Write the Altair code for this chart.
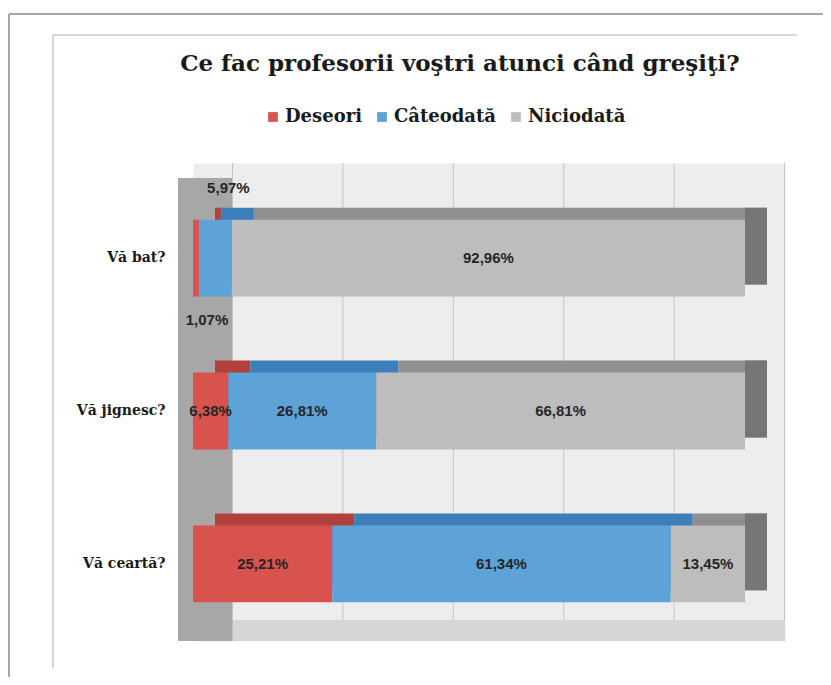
import altair as alt
import pandas as pd

# ---- data ----
questions = ["Vă bat?", "Vă jignesc?", "Vă ceartă?"]
series = ["Deseori", "Câteodată", "Niciodată"]
deseori = [1.07, 6.38, 25.21]
cateodata = [5.97, 26.81, 61.34]
niciodata = [92.96, 66.81, 13.45]
grid_ticks = [0, 20, 40, 60, 80, 100]

front_colors = ["#D8524E", "#5DA3D7", "#BDBDBD"]
top_colors = ["#B2403D", "#3C7FBB", "#8F8F8F"]

rows = []
for i, q in enumerate(questions):
    for j, vals in enumerate([deseori, cateodata, niciodata]):
        rows.append({"question": q, "series": series[j], "order": j, "value": vals[i]})
df = pd.DataFrame(rows)

W, H = 592, 478
xscale = alt.Scale(domain=[0, 100 * W / 552], nice=False, zero=True)
yscale = alt.Scale(domain=questions, paddingInner=0.497, paddingOuter=0.312, align=0.594)

yaxis = alt.Axis(title=None, domain=False, ticks=False, grid=False, labelPadding=28,
                 labelFont="DejaVu Serif", labelFontWeight="bold", labelFontSize=14,
                 labelColor="#1a1a1a")
y_enc = alt.Y("question:N", scale=yscale, axis=yaxis, sort=questions)

top_expr = "[" + ",".join("'%s'" % c for c in top_colors) + "][datum.order]"

base = alt.Chart(df).transform_stack(
    stack="value", groupby=["question"], as_=["x0", "x1"], sort=[alt.SortField("order")]
).transform_calculate(
    mid="(datum.x0 + datum.x1) / 2",
    label="replace(format(datum.value, '.2f'), '.', ',') + '%'",
    topc=top_expr,
)

one = pd.DataFrame({"a": [0]})

floor = alt.Chart(one).mark_rect(color="#D6D6D6").encode(
    x=alt.value(-15), x2=alt.value(W), y=alt.value(457), y2=alt.value(H))
wall = alt.Chart(one).mark_rect(color="#A7A7A7").encode(
    x=alt.value(-15), x2=alt.value(39.5), y=alt.value(15), y2=alt.value(H))
grid = alt.Chart(pd.DataFrame({"tick": grid_ticks})).mark_rule(
    color="#C6C6C6", strokeWidth=1, xOffset=39.5
).encode(x=alt.X("tick:Q", scale=xscale, axis=None), y=alt.value(0), y2=alt.value(457))

frame_outer_top = alt.Chart(one).mark_rule(color="#8A8A8A", strokeWidth=1.5).encode(
    x=alt.value(-184), x2=alt.value(640), y=alt.value(-149))
frame_outer_left = alt.Chart(one).mark_rule(color="#8A8A8A", strokeWidth=1.5).encode(
    x=alt.value(-184), y=alt.value(-149), y2=alt.value(530))
frame_inner_top = alt.Chart(one).mark_rule(color="#D6D6D6", strokeWidth=2).encode(
    x=alt.value(-140), x2=alt.value(604), y=alt.value(-128))
frame_inner_left = alt.Chart(one).mark_rule(color="#D6D6D6", strokeWidth=2).encode(
    x=alt.value(-140), y=alt.value(-128), y2=alt.value(505))

x_enc = alt.X("x0:Q", scale=xscale, axis=None)

tops = base.mark_bar(xOffset=22, x2Offset=22, yOffset=-12, y2Offset=-12).encode(
    x=x_enc, x2="x1:Q", y=y_enc,
    fill=alt.Fill("topc:N", scale=None),
)
side = base.transform_filter("datum.order == 2").mark_bar(
    x2Offset=22, yOffset=-12, y2Offset=-12, color="#767676"
).encode(x=alt.X("x1:Q", scale=xscale, axis=None), x2="x1:Q", y=y_enc)

front = base.mark_bar().encode(
    x=x_enc, x2="x1:Q", y=y_enc,
    color=alt.Color("series:N", scale=alt.Scale(domain=series, range=front_colors),
                    legend=alt.Legend(orient="none", legendX=71, legendY=-55,
                                      direction="horizontal", title=None,
                                      symbolType="square", symbolSize=95,
                                      symbolStrokeWidth=0, labelFont="DejaVu Serif",
                                      labelFontWeight="bold", labelFontSize=18,
                                      labelColor="#1a1a1a", columnPadding=11,
                                      labelOffset=3)),
    order=alt.Order("order:Q"),
)

txt_style = dict(font="Liberation Sans", fontWeight="bold", fontSize=15,
                 color="#262626", align="center", baseline="middle")
labels_in = base.transform_filter("datum.value >= 6").mark_text(**txt_style).encode(
    x=alt.X("mid:Q", scale=xscale, axis=None), y=y_enc, text="label:N")
labels_above = base.transform_filter("datum.value < 6 && datum.order == 1").mark_text(
    dx=13, dy=-70, **txt_style).encode(
    x=alt.X("mid:Q", scale=xscale, axis=None), y=y_enc, text="label:N")
labels_below = base.transform_filter("datum.value < 6 && datum.order == 0").mark_text(
    dx=11, dy=62, **txt_style).encode(
    x=alt.X("mid:Q", scale=xscale, axis=None), y=y_enc, text="label:N")

chart = alt.layer(
    floor, wall, grid,
    frame_outer_top, frame_outer_left, frame_inner_top, frame_inner_left,
    tops, side, front, labels_in, labels_above, labels_below,
).properties(
    width=W, height=H,
    autosize=alt.AutoSizeParams(type="none"),
    padding={"left": 185, "top": 155, "right": 38, "bottom": 36},
    title=alt.Title("Ce fac profesorii voştri atunci când greşiţi?",
                    font="DejaVu Serif", fontSize=23, fontWeight="bold",
                    color="#1a1a1a", anchor="middle", frame="group",
                    offset=0, dx=-29, dy=63),
).configure_view(fill="#EDEDED", stroke="transparent")

chart.save("out.html", embed_options={"renderer": "svg", "actions": False})
